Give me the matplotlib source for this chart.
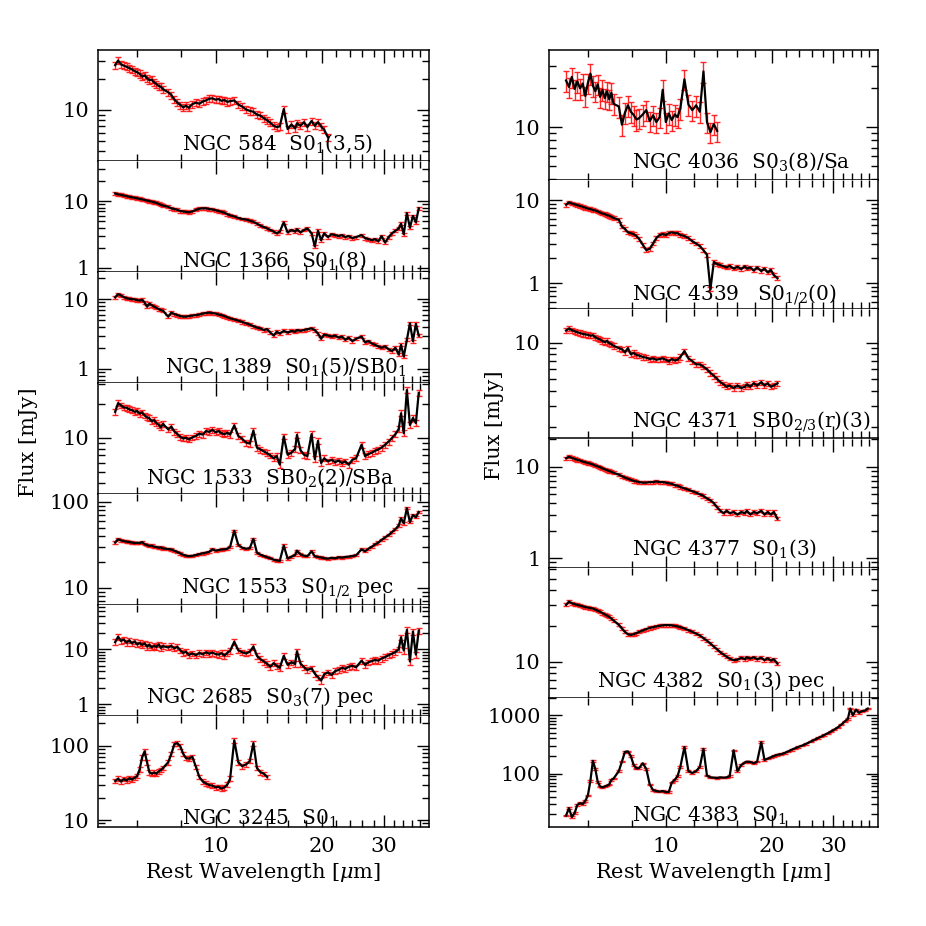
import numpy as np
import matplotlib.pyplot as plt
from matplotlib import ticker

plt.rcParams['font.family'] = 'DejaVu Serif'
plt.rcParams['mathtext.fontset'] = 'dejavuserif'

# ---------------------------
# DATA: common wavelength sampling (micron) + flux (mJy) per galaxy
# ---------------------------
wave_grid = [5.2, 5.3, 5.4, 5.5, 5.6, 5.7, 5.8, 5.9, 6.0, 6.1,
             6.2, 6.3, 6.4, 6.5, 6.6, 6.7, 6.8, 6.9, 7.0, 7.1,
             7.35, 7.5, 7.65, 7.8, 7.95, 8.1, 8.25, 8.4, 8.6, 8.8,
             9.0, 9.2, 9.4, 9.6, 9.8, 10.0, 10.2, 10.4, 10.6, 10.8,
             11.0, 11.3, 11.6, 11.9, 12.2, 12.5, 12.8, 13.1, 13.4, 13.7,
             14.0, 14.3, 14.6, 14.9, 15.2, 15.6, 16.0, 16.4, 16.8, 17.0,
             17.4, 17.8, 18.2, 18.7, 19.1, 19.5, 19.9, 20.3, 20.8, 21.3,
             21.8, 22.3, 22.8, 23.3, 23.8, 24.4, 25.0, 25.9, 26.5, 27.1,
             27.7, 28.3, 28.9, 29.5, 30.2, 30.9, 31.6, 32.3, 33.0, 33.5,
             34.1, 34.8, 35.5, 36.2, 36.9, 37.6]

flux_584 = [27.5, 30.5, 28.0, 27.2, 26.5, 25.8, 25.0, 24.0, 23.5, 22.6,
            21.2, 21.8, 20.5, 19.6, 19.8, 18.6, 18.0, 17.2, 16.9, 16.0,
            14.9, 14.0, 12.6, 11.8, 11.2, 10.6, 11.0, 10.5, 11.4, 11.8,
            11.5, 12.1, 12.4, 12.9, 13.0, 12.6, 12.8, 12.3, 12.5, 12.0,
            12.2, 12.4, 11.3, 10.8, 10.1, 9.8, 9.6, 9.0, 8.8, 8.3,
            7.9, 7.5, 7.0, 6.8, 6.9, 10.2, 6.5, 7.2, 6.6, 7.4,
            7.0, 7.6, 6.8, 7.8, 7.0, 7.6, 6.9, 6.4, 5.4]

flux_1366 = [13.0, 12.6, 12.4, 12.1, 11.9, 11.6, 11.4, 11.2, 11.0, 10.8,
             10.6, 10.4, 10.2, 10.0, 9.8, 9.6, 9.4, 9.1, 8.8, 8.6,
             8.2, 7.8, 7.6, 7.4, 7.1, 7.0, 6.9, 6.8, 7.0, 7.4,
             7.7, 7.8, 7.8, 7.6, 7.5, 7.3, 7.1, 6.9, 6.7, 6.4,
             6.1, 5.9, 5.6, 5.4, 5.3, 5.1, 4.9, 4.6, 4.3, 4.1,
             3.9, 3.7, 3.5, 3.3, 3.5, 4.8, 3.4, 3.7, 3.5, 3.8,
             3.4, 3.7, 3.9, 3.3, 2.1, 3.6, 2.6, 3.3, 2.9, 3.2,
             3.1, 3.0, 3.1, 2.9, 3.0, 2.8, 2.9, 3.1, 2.8, 2.7,
             2.6, 2.7, 2.5, 3.0, 2.4, 2.9, 3.3, 3.6, 3.9, 4.6,
             3.2, 6.6, 4.0, 6.0, 4.8, 7.8]

flux_1389 = [10.6, 11.8, 11.3, 10.7, 10.3, 10.1, 10.0, 9.9, 9.7, 9.5,
             9.8, 8.9, 7.8, 8.6, 8.2, 7.8, 7.5, 7.2, 7.0, 6.8,
             5.6, 6.4, 6.1, 5.9, 5.7, 5.6, 5.6, 5.7, 5.8, 5.9,
             6.0, 6.2, 6.3, 6.4, 6.3, 6.2, 6.0, 5.9, 5.7, 5.5,
             5.3, 5.1, 4.9, 4.7, 4.5, 4.3, 4.1, 3.9, 3.8, 3.6,
             3.7, 3.3, 3.0, 3.4, 3.2, 3.5, 3.3, 3.5, 3.4, 3.6,
             3.5, 3.6, 3.7, 3.8, 3.6, 3.2, 2.7, 3.1, 3.0, 2.9,
             3.0, 2.8, 2.9, 2.6, 2.8, 2.5, 2.7, 2.9, 2.4, 2.5,
             2.3, 2.2, 2.1, 2.0, 2.1, 1.9, 1.8, 2.0, 1.6, 2.2,
             1.5, 2.6, 4.5, 2.5, 4.4, 3.0]

flux_1533 = [17.0, 20.3, 19.4, 18.6, 18.5, 17.9, 17.6, 17.0, 17.3, 16.4,
             16.8, 15.8, 15.2, 14.9, 14.0, 14.4, 13.5, 13.1, 12.4, 13.3,
             11.9, 12.6, 11.4, 10.8, 10.2, 9.9, 10.0, 9.7, 10.1, 10.4,
             10.9, 10.7, 11.5, 11.3, 11.8, 11.2, 11.5, 11.0, 10.8, 11.1,
             10.7, 12.9, 10.4, 9.8, 9.1, 8.9, 11.6, 8.2, 7.9, 7.6,
             7.3, 7.0, 6.6, 6.9, 5.8, 10.3, 7.1, 7.4, 8.0, 10.6,
             7.8, 7.1, 6.9, 10.8, 6.5, 9.4, 6.0, 6.6, 6.2, 6.4,
             6.1, 6.3, 6.0, 6.2, 5.8, 6.4, 6.6, 8.7, 6.9, 7.2,
             7.4, 7.7, 7.9, 8.2, 8.7, 9.3, 10.0, 10.8, 12.0, 16.5,
             11.0, 26.5, 13.0, 15.0, 13.5, 25.0]

flux_1553 = [33.5, 36.6, 35.5, 34.8, 34.4, 33.9, 33.6, 33.0, 33.4, 33.0,
             34.0, 32.0, 31.4, 30.6, 30.9, 30.0, 29.8, 29.2, 29.4, 28.6,
             28.2, 27.8, 27.0, 26.0, 25.0, 24.2, 23.6, 23.3, 23.5, 24.0,
             24.6, 25.1, 25.6, 26.2, 28.0, 27.0, 27.4, 27.8, 28.0, 28.4,
             30.0, 46.0, 31.5, 29.2, 28.4, 28.8, 37.0, 25.6, 24.2, 23.4,
             22.6, 22.0, 21.2, 20.8, 20.5, 31.0, 21.8, 23.0, 24.0, 27.0,
             24.4, 23.6, 23.3, 26.5, 23.2, 22.8, 22.5, 22.0, 21.8, 22.3,
             22.0, 22.6, 22.4, 22.8, 23.0, 23.4, 23.8, 28.0, 26.5, 28.5,
             30.0, 32.0, 33.5, 36.0, 38.5, 41.0, 44.5, 48.0, 53.0, 64.0,
             56.0, 84.0, 58.0, 70.0, 66.0, 76.0]

flux_2685 = [13.5, 16.9, 14.2, 15.0, 13.2, 14.6, 12.8, 13.9, 12.3, 13.0,
             12.0, 12.8, 11.2, 12.1, 10.8, 11.6, 11.0, 12.3, 10.6, 11.4,
             10.8, 11.5, 10.4, 11.1, 9.6, 8.6, 9.0, 7.9, 8.4, 7.8,
             8.6, 8.1, 8.8, 8.3, 8.7, 8.2, 8.0, 8.5, 7.7, 8.6,
             9.4, 13.7, 9.6, 8.8, 8.4, 9.0, 11.2, 7.6, 6.6, 6.0,
             5.4, 4.8, 5.6, 5.0, 4.6, 7.6, 5.2, 5.8, 5.4, 9.2,
             5.5, 4.7, 4.2, 4.5, 3.6, 3.1, 2.7, 3.5, 3.8, 3.4,
             4.0, 4.2, 4.6, 4.4, 4.8, 5.0, 4.7, 6.2, 5.2, 5.8,
             6.1, 6.4, 6.2, 6.8, 7.2, 7.8, 8.3, 8.9, 10.0, 16.5,
             9.5, 22.5, 6.0, 21.0, 8.0, 22.0]

flux_3245 = [33.5, 36.0, 33.0, 35.5, 34.0, 36.5, 35.0, 37.0, 39.0, 48.0,
             70.0, 84.0, 60.0, 44.0, 42.0, 43.5, 42.0, 45.0, 47.0, 50.0,
             60.0, 78.0, 105.0, 108.0, 98.0, 78.0, 68.0, 67.0, 71.0, 52.0,
             38.0, 33.0, 31.0, 29.5, 29.0, 27.5, 28.0, 26.5, 27.5, 30.0,
             36.0, 118.0, 60.0, 53.0, 56.0, 62.0, 108.0, 50.0, 44.0, 42.0,
             38.0]

flux_4036 = [23.0, 20.5, 24.5, 19.8, 22.6, 20.0, 21.8, 17.5, 22.0, 26.0,
             21.0, 19.0, 21.5, 17.2, 19.5, 16.8, 19.0, 16.5, 18.5, 15.2,
             14.5, 10.5, 13.0, 14.8, 13.2, 12.5, 11.5, 11.8, 12.6, 13.6,
             11.2, 12.4, 11.0, 12.0, 19.5, 11.0, 12.8, 11.4, 12.6, 12.0,
             14.0, 23.5, 15.0, 13.6, 14.8, 13.2, 27.0, 11.0, 9.2, 10.6,
             9.4]

flux_4339 = [8.8, 9.4, 9.1, 8.9, 8.7, 8.5, 8.3, 8.1, 7.9, 7.8,
             7.6, 7.5, 7.3, 7.1, 6.9, 6.8, 6.6, 6.5, 6.3, 6.1,
             5.8, 4.8, 4.5, 4.1, 4.0, 3.9, 3.7, 3.4, 2.9, 2.5,
             2.6, 3.0, 3.5, 3.8, 3.9, 3.8, 4.0, 4.1, 4.0, 4.0,
             3.8, 3.7, 3.5, 3.2, 3.0, 2.8, 2.5, 2.2, 0.85, 1.8,
             1.7, 1.65, 1.6, 1.55, 1.62, 1.5, 1.58, 1.48, 1.6, 1.5,
             1.55, 1.42, 1.55, 1.4, 1.5, 1.35, 1.45, 1.25, 1.15]

flux_4371 = [12.6, 13.1, 12.7, 12.4, 12.2, 12.0, 11.8, 11.7, 11.6, 11.4,
             11.5, 11.1, 10.8, 10.6, 10.3, 10.1, 10.3, 9.9, 9.7, 9.4,
             9.0, 8.8, 8.3, 9.0, 8.0, 8.2, 7.9, 7.8, 7.6, 7.5,
             7.3, 7.4, 7.2, 7.3, 7.4, 7.2, 7.0, 7.3, 7.1, 7.2,
             7.6, 8.5, 7.4, 7.0, 6.6, 6.6, 6.3, 6.0, 5.6, 5.3,
             5.0, 4.7, 4.5, 4.3, 4.4, 4.2, 4.4, 4.2, 4.3, 4.5,
             4.3, 4.6, 4.4, 4.7, 4.4, 4.6, 4.3, 4.4, 4.6]

flux_4377 = [12.4, 12.9, 12.5, 12.2, 11.9, 11.7, 11.4, 11.2, 11.0, 10.8,
             10.6, 10.3, 10.1, 9.9, 9.6, 9.4, 9.2, 9.0, 8.8, 8.6,
             8.2, 7.9, 7.6, 7.4, 7.2, 7.0, 6.9, 6.8, 6.7, 6.7,
             6.8, 6.8, 6.9, 6.8, 6.8, 6.7, 6.6, 6.5, 6.3, 6.2,
             6.0, 5.8, 5.6, 5.4, 5.2, 5.0, 4.8, 4.5, 4.3, 4.0,
             3.6, 3.3, 3.1, 3.3, 3.1, 3.2, 3.0, 3.2, 3.1, 3.3,
             3.0, 3.2, 3.1, 3.3, 3.0, 3.2, 3.0, 3.2, 2.7]

flux_4382 = [30.0, 32.0, 31.0, 30.4, 30.0, 29.6, 29.2, 28.8, 28.5, 28.2,
             28.0, 27.4, 26.8, 26.3, 25.6, 25.0, 24.4, 23.8, 23.0, 22.2,
             20.4, 19.0, 17.8, 17.0, 16.8, 17.0, 17.4, 17.8, 18.3, 18.8,
             19.2, 19.5, 19.8, 20.0, 20.2, 20.3, 20.3, 20.2, 20.0, 19.8,
             19.5, 19.0, 18.4, 17.8, 17.2, 16.6, 15.8, 15.0, 14.2, 13.4,
             12.7, 12.0, 11.5, 11.0, 10.6, 10.3, 10.4, 10.8, 10.5, 10.9,
             10.6, 10.9, 10.5, 10.8, 10.3, 10.7, 10.2, 10.5, 9.6]

flux_4383 = [19.0, 25.5, 18.0, 21.0, 29.0, 31.0, 30.0, 34.0, 42.0, 75.0,
             165.0, 120.0, 72.0, 60.0, 58.0, 60.0, 62.0, 65.0, 78.0, 82.0,
             110.0, 160.0, 235.0, 240.0, 200.0, 140.0, 122.0, 125.0, 150.0, 120.0,
             65.0, 52.0, 50.0, 49.0, 50.0, 48.0, 48.5, 70.0, 78.0, 90.0,
             130.0, 285.0, 110.0, 102.0, 110.0, 130.0, 265.0, 92.0, 86.0, 85.0,
             84.0, 86.0, 85.0, 86.0, 90.0, 250.0, 110.0, 140.0, 155.0, 160.0,
             158.0, 150.0, 160.0, 345.0, 170.0, 180.0, 190.0, 200.0, 210.0, 215.0,
             225.0, 240.0, 255.0, 270.0, 285.0, 300.0, 320.0, 355.0, 380.0, 405.0,
             430.0, 460.0, 490.0, 525.0, 570.0, 620.0, 690.0, 780.0, 870.0, 1300.0,
             1000.0, 1250.0, 1100.0, 1180.0, 1200.0, 1300.0]

# relative flux uncertainty per galaxy
rel_err = {'584': 0.08, '1366': 0.05, '1389': 0.05, '1533': 0.06, '1553': 0.03,
           '2685': 0.12, '3245': 0.07, '4036': 0.18, '4339': 0.05, '4371': 0.05,
           '4377': 0.04, '4382': 0.03, '4383': 0.03}

labels = {
    '584': r'NGC 584  S0$_1$(3,5)',
    '1366': r'NGC 1366  S0$_1$(8)',
    '1389': r'NGC 1389  S0$_1$(5)/SB0$_1$',
    '1533': r'NGC 1533  SB0$_2$(2)/SBa',
    '1553': r'NGC 1553  S0$_{1/2}$ pec',
    '2685': r'NGC 2685  S0$_3$(7) pec',
    '3245': r'NGC 3245  S0$_1$',
    '4036': r'NGC 4036  S0$_3$(8)/Sa',
    '4339': r'NGC 4339   S0$_{1/2}$(0)',
    '4371': r'NGC 4371  SB0$_{2/3}$(r)(3)',
    '4377': r'NGC 4377  S0$_1$(3)',
    '4382': r'NGC 4382  S0$_1$(3) pec',
    '4383': r'NGC 4383  S0$_1$',
}

fluxes = {'584': flux_584, '1366': flux_1366, '1389': flux_1389, '1533': flux_1533,
          '1553': flux_1553, '2685': flux_2685, '3245': flux_3245, '4036': flux_4036,
          '4339': flux_4339, '4371': flux_4371, '4377': flux_4377, '4382': flux_4382,
          '4383': flux_4383}

left_col = ['584', '1366', '1389', '1533', '1553', '2685', '3245']
right_col = ['4036', '4339', '4371', '4377', '4382', '4383']

# y-range of each panel, and label placement (axes fraction)
ylims = {'584': (3.16, 38.7), '1366': (0.87, 39.8), '1389': (0.625, 24.5),
         '1533': (3.19, 30.6), '1553': (6.3, 123), '2685': (0.61, 64),
         '3245': (8.05, 251), '4036': (3.97, 39.5), '4339': (0.49, 17.7),
         '4371': (1.6, 19.0), '4377': (0.78, 20.4), '4382': (5.0, 61.3),
         '4383': (12.1, 2013)}
label_pos = {'584': (0.254, 0.10), '1366': (0.254, 0.05), '1389': (0.202, 0.09),
             '1533': (0.145, 0.09), '1553': (0.251, 0.105), '2685': (0.145, 0.12),
             '3245': (0.254, 0.025), '4036': (0.252, 0.09), '4339': (0.252, 0.066),
             '4371': (0.252, 0.088), '4377': (0.252, 0.10), '4382': (0.146, 0.082),
             '4383': (0.252, 0.04)}

# ---------------------------
# PLOT
# ---------------------------
W = 926.0
fig = plt.figure(figsize=(9.26, 9.26), dpi=100)


def style_axis(ax, bottom_row):
    ax.set_xscale('log')
    ax.set_yscale('log')
    ax.set_xlim(4.65, 40.2)
    ax.xaxis.set_major_locator(ticker.FixedLocator([10, 20, 30]))
    ax.xaxis.set_minor_locator(ticker.FixedLocator([6, 8, 12, 14, 16, 18, 22, 24, 26, 28,
                                                    32, 34, 36, 38]))
    ax.xaxis.set_minor_formatter(ticker.NullFormatter())
    if bottom_row:
        ax.xaxis.set_major_formatter(ticker.FixedFormatter(['10', '20', '30']))
    else:
        ax.xaxis.set_major_formatter(ticker.NullFormatter())
    ax.yaxis.set_major_locator(ticker.LogLocator(base=10))
    ax.yaxis.set_minor_locator(ticker.LogLocator(base=10, subs=np.arange(2, 10)))
    ax.yaxis.set_major_formatter(ticker.FuncFormatter(lambda v, p: '%g' % v))
    ax.yaxis.set_minor_formatter(ticker.NullFormatter())
    ax.tick_params(which='both', direction='in', top=True, right=True, width=1.0)
    ax.tick_params(which='major', length=9, labelsize=15)
    ax.tick_params(which='minor', length=5)
    ax.tick_params(axis='x', pad=7)
    ax.tick_params(axis='y', pad=6)
    for s in ax.spines.values():
        s.set_linewidth(1.1)


def draw_column(names, x0, x1, top=50.0, bottom=827.0):
    h = (bottom - top) / len(names)
    for i, name in enumerate(names):
        y0 = top + i * h
        ax = fig.add_axes([x0 / W, 1 - (y0 + h) / W, (x1 - x0) / W, h / W])
        f = np.array(fluxes[name])
        w = np.array(wave_grid[:len(f)])
        ax.errorbar(w, f, yerr=rel_err[name] * f, fmt='none', ecolor='#ff1010',
                    elinewidth=1.0, capsize=2.2, capthick=1.0, alpha=0.9, zorder=2)
        ax.plot(w, f, color='black', lw=1.6, zorder=3)
        style_axis(ax, i == len(names) - 1)
        ax.set_ylim(*ylims[name])
        if i > 0:
            # shared edge is already drawn by the panel above
            ax.spines['top'].set_visible(False)
        lx, ly = label_pos[name]
        ax.text(lx, ly, labels[name], transform=ax.transAxes, ha='left',
                va='baseline', fontsize=14.5, zorder=4)


draw_column(left_col, 98, 429)
draw_column(right_col, 549, 878)

fig.text(28 / W, 1 - 442 / W, 'Flux [mJy]', rotation=90, ha='center', va='center', fontsize=15)
fig.text(495 / W, 1 - 425 / W, 'Flux [mJy]', rotation=90, ha='center', va='center', fontsize=15)
fig.text(263 / W, 1 - 872 / W, r'Rest Wavelength [$\mu$m]', ha='center', va='center', fontsize=15)
fig.text(713 / W, 1 - 872 / W, r'Rest Wavelength [$\mu$m]', ha='center', va='center', fontsize=15)

fig.savefig('out.png', dpi=100, facecolor='white')
